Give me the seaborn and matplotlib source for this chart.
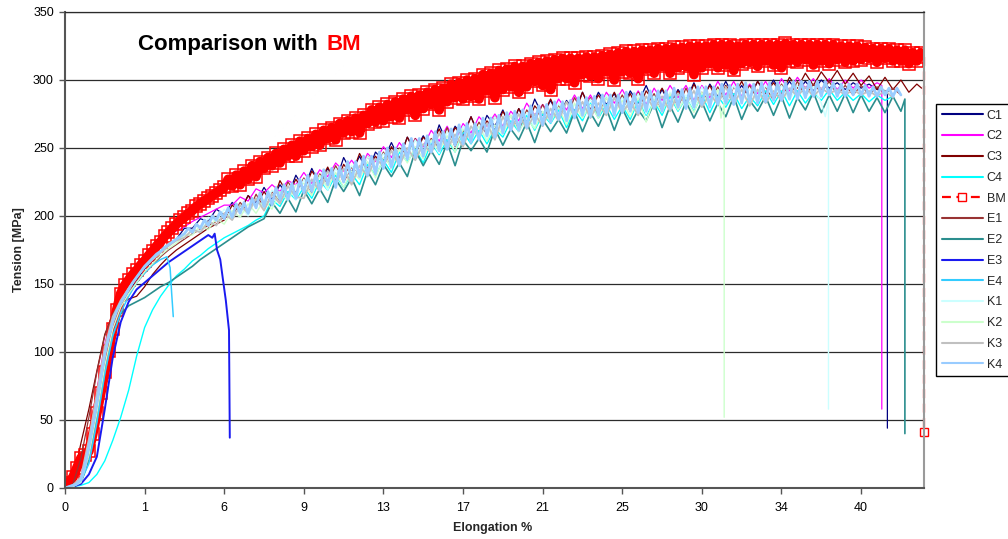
import numpy as np
import matplotlib
matplotlib.use("Agg")
import matplotlib.pyplot as plt
from matplotlib.lines import Line2D
import seaborn as sns

# Samples are spaced STEP apart on the category axis (a tick label every 10);
# the densely logged specimens BM and K4 are sampled at STEP_FINE.
STEP = 0.1
STEP_FINE = 0.05
TICK_LABELS = ["0", "1", "6", "9", "13", "17", "21", "25", "30", "34", "40"]
Y_TICKS = [0, 50, 100, 150, 200, 250, 300, 350]

# Tension [MPa] per sample; *_TAIL_X / *_TAIL_Y hold the final readings (rupture).
C1 = [0, 1, 5, 26, 58, 95, 120, 134, 144, 153, 161, 167, 173, 178, 183,
      191, 191, 198, 196, 205, 201, 210, 204, 215, 210, 221, 212, 223, 215, 230,
      220, 235, 223, 235, 225, 243, 232, 244, 232, 247, 241, 254, 242, 258, 248,
      259, 249, 267, 254, 266, 259, 273, 259, 274, 266, 278, 264, 279, 269, 286,
      274, 285, 273, 285, 277, 291, 278, 291, 282, 290, 278, 292, 283, 296, 282,
      293, 282, 293, 285, 298, 285, 297, 288, 299, 288, 296, 287, 299, 290, 300,
      290, 299, 291, 299, 292, 300, 294, 298, 293, 298, 294, 297, 293]
C1_TAIL_X = [10.33, 10.33]
C1_TAIL_Y = [292, 44]

C2 = [0, 2, 8, 38, 72, 106, 128, 142, 153, 162, 170, 176, 181, 186, 189, 192,
      196, 199, 202, 205, 208, 208, 214, 211, 220, 217, 223, 218, 226, 223, 232,
      224, 234, 229, 239, 233, 241, 233, 246, 240, 251, 243, 254, 246, 257, 251,
      263, 255, 266, 255, 268, 261, 273, 266, 275, 266, 277, 270, 283, 274, 282,
      274, 286, 278, 289, 279, 289, 278, 291, 283, 293, 282, 292, 282, 294, 285,
      296, 287, 296, 285, 296, 287, 299, 289, 299, 288, 297, 290, 299, 289, 301,
      292, 302, 294, 301, 293, 301, 293, 300, 294, 300, 294, 298]
C2_TAIL_X = [10.26, 10.26]
C2_TAIL_Y = [296, 58]

C3 = [0, 5, 33, 58, 86, 113, 128, 136, 139, 141, 148, 157, 164, 170, 175, 179,
      183, 187, 191, 194, 197, 208, 203, 215, 207, 218, 209, 226, 216, 227, 218,
      233, 225, 236, 223, 238, 230, 246, 235, 244, 236, 251, 242, 258, 246, 258,
      252, 264, 252, 265, 258, 273, 259, 270, 263, 277, 267, 279, 266, 281, 274,
      286, 273, 284, 274, 291, 278, 289, 280, 291, 279, 290, 278, 292, 284, 294,
      283, 292, 283, 297, 286, 296, 284, 296, 288, 299, 287, 299, 290, 298, 290,
      302, 294, 305, 296, 306, 298, 307, 297, 305, 296, 303, 293, 302, 293, 300,
      291, 297]
C3_TAIL_X = [10.76]
C3_TAIL_Y = [294]

C4 = [0, 1, 2, 4, 10, 20, 35, 52, 72, 97, 118, 131, 141, 149, 156, 161, 167,
      171, 176, 180, 184, 187, 190, 193, 197, 200, 212, 207, 218, 212, 221, 213,
      226, 219, 230, 221, 231, 223, 238, 230, 241, 232, 247, 240, 249, 239, 254,
      245, 256, 247, 262, 253, 263, 253, 264, 258, 270, 262, 274, 263, 275, 268,
      278, 265, 278, 270, 283, 272, 282, 271, 281, 271, 285, 274, 284, 274, 288,
      277, 287, 277, 289, 276, 288, 280, 290, 279, 288, 281, 292, 282, 292, 281,
      292, 283, 291, 285, 293, 285, 291, 285, 290, 284, 289, 285, 288]
C4_TAIL_X = []
C4_TAIL_Y = []

BM = [2, 4, 8, 15, 22, 24, 27, 40, 55, 70, 85, 101, 117, 131, 143, 149, 153,
      157, 160, 164, 167, 171, 174, 178, 181, 185, 188, 191, 194, 197, 199, 202,
      204, 207, 209, 211, 213, 215, 217, 219, 221,
      227, 222, 230, 223, 233, 227, 237, 229, 240, 235, 243, 237, 246, 239, 249,
      244, 252, 244, 255, 248,
      257, 251, 260, 252, 263, 257, 265, 256, 268, 261, 270, 262, 272, 261, 274,
      268, 278, 269, 280, 270,
      282, 273, 284, 272, 286, 278, 288, 274, 289, 279, 291, 282, 293, 278, 294,
      284, 297, 287, 298, 286,
      300, 288, 301, 286, 304, 292, 305, 287, 307, 293, 308, 295, 310, 291, 310,
      295, 312, 299, 313, 296, 314, 293, 315, 301, 316, 301, 316, 298, 316, 304,
      317, 303, 317, 301, 318, 306, 319, 300, 320, 306, 321, 305, 321, 301, 322,
      308, 322, 305, 323, 310, 323, 305, 324, 309, 324, 310, 325, 304, 325, 309,
      325, 312, 326, 309, 326, 311, 326, 307, 325, 312,
      326, 313, 326, 310, 326, 314, 326, 311, 326, 309, 327, 314, 326, 313, 326,
      315, 326, 311, 326, 314, 326, 312, 326, 315, 325, 313, 325, 314, 325, 315,
      324, 316, 323, 313, 323, 316, 323, 314, 322, 314, 322, 312, 320, 314, 320]
BM_TAIL_X = [10.79, 10.79]
BM_TAIL_Y = [317, 41]

E1 = [0, 3, 22, 52, 85, 112, 128, 137, 144, 151, 158, 164, 170, 175, 179, 183,
      187, 190, 193, 196, 199, 200, 210, 203, 216, 206, 218, 211, 225, 217, 228,
      217, 231, 224, 237, 225, 236, 230, 244, 235, 247, 235, 250, 245, 257, 246,
      257, 250, 265, 251, 263, 258, 269, 260, 273, 265, 274, 263, 278, 270, 282,
      270, 281, 273, 287, 277, 287, 274, 287, 278, 289, 277, 291, 281, 290, 277,
      290, 280, 294, 282, 291, 284, 295, 282, 295, 287, 296, 286, 295, 285, 297,
      288, 299, 288, 297, 291, 299, 289, 296, 289, 296, 289, 295, 290, 294, 289]
E1_TAIL_X = []
E1_TAIL_Y = []

E2 = [0, 1, 4, 20, 50, 85, 112, 128, 134, 137, 140, 144, 148, 151, 155, 159,
      163, 168, 172, 176, 180, 184, 188, 192, 195, 198, 210, 202, 213, 203, 219,
      209, 220, 210, 227, 218, 228, 215, 233, 223, 238, 229, 239, 229, 248, 237,
      248, 238, 254, 237, 256, 248, 257, 247, 264, 252, 264, 256, 269, 254, 271,
      262, 271, 261, 277, 262, 276, 266, 279, 263, 279, 267, 278, 270, 283, 265,
      281, 269, 284, 272, 284, 270, 283, 273, 288, 271, 285, 277, 288, 274, 288,
      272, 287, 278, 291, 276, 289, 277, 290, 276, 289, 277, 287, 276, 288, 277]
E2_TAIL_X = [10.55, 10.55]
E2_TAIL_Y = [286, 40]

E3 = [0, 1, 3, 10, 23, 58, 96, 122, 137, 146, 151, 156, 161, 166, 170, 174,
      178, 182, 186]
E3_TAIL_X = [1.85, 1.88, 1.91, 1.95, 1.98, 2.02, 2.06, 2.07]
E3_TAIL_Y = [184, 187, 175, 168, 155, 138, 116, 37]

E4 = [0, 1, 5, 18, 48, 84, 112, 129, 141, 151, 158, 164, 168]
E4_TAIL_X = [1.28, 1.32, 1.34, 1.36]
E4_TAIL_Y = [170, 162, 143, 126]

K1 = [0, 2, 7, 33, 66, 101, 124, 137, 147, 155, 163, 168, 173, 178, 182, 184,
      190, 189, 199, 196, 205, 198, 207, 200, 213, 206, 219, 212, 222, 212, 227,
      218, 229, 219, 235, 226, 237, 228, 244, 235, 246, 235, 249, 243, 256, 245,
      255, 246, 262, 252, 266, 258, 266, 257, 273, 262, 274, 266, 276, 265, 277,
      269, 283, 272, 282, 272, 286, 277, 289, 275, 287, 278, 290, 275, 288, 279,
      291, 278, 289, 280, 295, 283, 293, 282, 296, 284, 293, 283, 296, 287, 296,
      285, 296, 287, 295, 283]
K1_TAIL_X = [9.55, 9.59, 9.59]
K1_TAIL_Y = [273, 285, 58]

K2 = [0, 1, 4, 24, 55, 90, 117, 133, 143, 151, 159, 165, 171, 176, 180, 186,
      186, 193, 190, 198, 194, 204, 199, 209, 202, 212, 205, 218, 211, 223, 224,
      215, 230, 221, 232, 221, 233, 227, 240, 228, 243, 237, 249, 239, 251, 242,
      256, 248, 259, 247, 264, 256, 266, 255, 267, 260, 274, 262, 272, 264, 277,
      269, 280, 267, 283, 272, 282, 272, 287, 276, 285, 273, 287, 269, 286, 276,
      290, 278, 287, 276, 291, 281, 293]
K2_TAIL_X = [8.24, 8.28, 8.28]
K2_TAIL_Y = [272, 283, 52]

K3 = [0, 2, 8, 36, 70, 104, 126, 138, 147, 155, 162, 168, 173, 178, 182, 184,
      190, 188, 196, 193, 202, 197, 208, 202, 213, 204, 216, 209, 222, 214, 213,
      227, 218, 233, 224, 235, 223, 237, 229, 242, 237, 248, 237, 250, 241, 253,
      246, 261, 249, 260, 251, 266, 258, 268, 256, 273, 263, 275, 264, 275, 266,
      279, 270, 284, 273, 284, 272, 283, 274, 287, 276, 284, 274, 288, 279, 288,
      277, 290, 282, 292, 280, 290, 282, 295, 282, 293, 281, 293, 283, 292, 285,
      294, 288, 295, 288, 294, 290, 293, 289, 293, 289, 292, 288, 292, 287]
K3_TAIL_X = []
K3_TAIL_Y = []

K4 = [0, 1, 2, 3, 6, 16, 30, 46, 62, 80, 98, 111, 122, 130, 136, 141, 146,
      151, 155, 159, 163, 166, 169, 172, 174, 177, 179, 181, 183, 185, 187,
      191, 188, 194, 191, 197, 193, 200, 197, 203, 198, 206, 199, 209, 202, 210,
      202, 213, 206, 217, 207, 218, 208, 221, 212, 223, 212, 224, 213, 227, 217,
      230, 218, 231, 219, 234, 223, 235, 221, 236, 225, 240, 226, 240, 229, 244,
      230, 244, 231, 247, 235, 250, 236, 250, 237, 253, 242, 257, 243, 257, 244,
      259, 247, 262, 248, 262, 249, 264, 252, 267, 253, 268, 254, 268, 256, 272,
      259, 272, 258, 274, 261, 276, 263, 277, 263, 278, 265, 281, 268, 281, 267,
      282, 269, 284, 271, 284, 270, 285, 272, 287, 274, 287, 273, 288, 274, 289,
      276, 289, 274, 289, 276, 291, 277, 290, 276, 291, 277, 292, 279, 292, 277,
      292, 279, 294, 280, 293, 279, 294, 280, 295, 282, 295, 280, 295, 282, 297,
      283, 296, 282, 297, 283, 298, 284, 297, 283, 298, 284, 298, 285, 298, 285,
      298, 286, 299, 286, 299, 287, 299, 288, 299, 288, 299, 289, 298, 288, 297,
      288, 297, 289, 297, 289, 296, 288, 295, 288, 295, 289, 294, 288, 294, 289]
K4_TAIL_X = []
K4_TAIL_Y = []

# name, readings, tail x, tail y, colour, sample step, line width
SERIES = [
    ("C1", C1, C1_TAIL_X, C1_TAIL_Y, "#000080", STEP, 0.9),
    ("C2", C2, C2_TAIL_X, C2_TAIL_Y, "#FF00FF", STEP, 0.9),
    ("C3", C3, C3_TAIL_X, C3_TAIL_Y, "#800000", STEP, 0.9),
    ("C4", C4, C4_TAIL_X, C4_TAIL_Y, "#00FFFF", STEP, 1.0),
    ("BM", BM, BM_TAIL_X, BM_TAIL_Y, "#FF0000", STEP_FINE, 7.0),
    ("E1", E1, E1_TAIL_X, E1_TAIL_Y, "#993333", STEP, 0.9),
    ("E2", E2, E2_TAIL_X, E2_TAIL_Y, "#2B8E8E", STEP, 1.2),
    ("E3", E3, E3_TAIL_X, E3_TAIL_Y, "#1A1AF0", STEP, 1.4),
    ("E4", E4, E4_TAIL_X, E4_TAIL_Y, "#33CCFF", STEP, 1.1),
    ("K1", K1, K1_TAIL_X, K1_TAIL_Y, "#CCFFFF", STEP, 1.0),
    ("K2", K2, K2_TAIL_X, K2_TAIL_Y, "#CCFFCC", STEP, 1.0),
    ("K3", K3, K3_TAIL_X, K3_TAIL_Y, "#C0C0C0", STEP, 1.3),
    ("K4", K4, K4_TAIL_X, K4_TAIL_Y, "#99CCFF", STEP_FINE, 2.0),
]

sns.set_theme(style="white")
plt.rcParams["font.family"] = ["Liberation Sans", "DejaVu Sans"]

fig = plt.figure(figsize=(10.08, 5.39), dpi=100)
ax = fig.add_axes([65 / 1008, 51 / 539, 859 / 1008, 476 / 539])

handles = []
for name, values, tail_x, tail_y, color, step, lw in SERIES:
    xs = np.arange(len(values)) * step
    if name == "BM":
        # dense BM readings: thick trace with square sample markers,
        # the rupture drop drawn dashed
        bx = np.concatenate([xs, tail_x[:1]])
        by = np.concatenate([values, tail_y[:1]])
        sns.lineplot(x=bx, y=by, ax=ax, color=color, linewidth=lw,
                     marker="s", markersize=8.5, markerfacecolor="none",
                     markeredgecolor=color, markeredgewidth=1.1,
                     sort=False, estimator=None, legend=False,
                     solid_joinstyle="round", solid_capstyle="butt")
        sns.lineplot(x=np.array(tail_x), y=np.array(tail_y), ax=ax, color=color,
                     linewidth=1.6, linestyle=(0, (4, 2.5)), marker="s",
                     markersize=5.5, markevery=[len(tail_x) - 1],
                     markerfacecolor="none", markeredgecolor=color,
                     markeredgewidth=1.0, sort=False, estimator=None,
                     legend=False, clip_on=False)
        handles.append(Line2D([], [], color=color, linewidth=1.6,
                              linestyle=(0, (4, 2.5)), marker="s", markersize=5.5,
                              markerfacecolor="white", markeredgecolor=color,
                              markeredgewidth=1.0))
    else:
        lx = np.concatenate([xs, tail_x])
        ly = np.concatenate([values, tail_y])
        sns.lineplot(x=lx, y=ly, ax=ax, color=color, linewidth=lw,
                     sort=False, estimator=None, legend=False)
        handles.append(Line2D([], [], color=color, linewidth=1.5))

ax.set_xlim(0, 10.79)
ax.set_ylim(0, 350)
ax.set_xticks(np.arange(len(TICK_LABELS)))
ax.set_xticklabels(TICK_LABELS)
ax.set_yticks(Y_TICKS)
ax.yaxis.grid(True, color="#2b2b2b", linewidth=0.9)
ax.xaxis.grid(False)
ax.set_axisbelow(True)

for side in ("left", "bottom"):
    ax.spines[side].set_color("#555555")
    ax.spines[side].set_linewidth(1.5)
ax.spines["right"].set_color("#9a9a9a")
ax.spines["right"].set_linewidth(1.5)
ax.spines["top"].set_color("#2b2b2b")
ax.spines["top"].set_linewidth(0.9)

ax.tick_params(axis="both", direction="out", length=4, width=1,
               color="#555555", labelcolor="black", labelsize=9,
               left=True, bottom=True)
ax.tick_params(axis="x", pad=6)
ax.tick_params(axis="y", pad=4)

ax.set_xlabel("Elongation %", fontsize=9, fontweight="bold")
ax.xaxis.set_label_coords(0.498, -0.072)
ax.set_ylabel("Tension [MPa]", fontsize=9, fontweight="bold")
ax.yaxis.set_label_coords(-0.047, 0.5)

# title with the base material highlighted
title_y = 1 - 50 / 539
t1 = fig.text(138 / 1008, title_y, "Comparison with", fontsize=16,
              fontweight="bold", color="black", va="baseline", ha="left")
fig.canvas.draw()
bb = t1.get_window_extent()
fig.text((bb.x1 + 9) / 1008, title_y, "BM", fontsize=16, fontweight="bold",
         color="#FF0000", va="baseline", ha="left")

leg = fig.legend(handles, [s[0] for s in SERIES], loc="upper left",
                 bbox_to_anchor=(936 / 1008, 1 - 104 / 539), fontsize=9,
                 frameon=True, fancybox=False, edgecolor="black",
                 handlelength=3.3, handletextpad=0.3, labelspacing=0.70,
                 borderpad=0.45, borderaxespad=0)
leg.get_frame().set_linewidth(1.0)
leg.get_frame().set_alpha(1)

fig.savefig("out.png", dpi=100)
